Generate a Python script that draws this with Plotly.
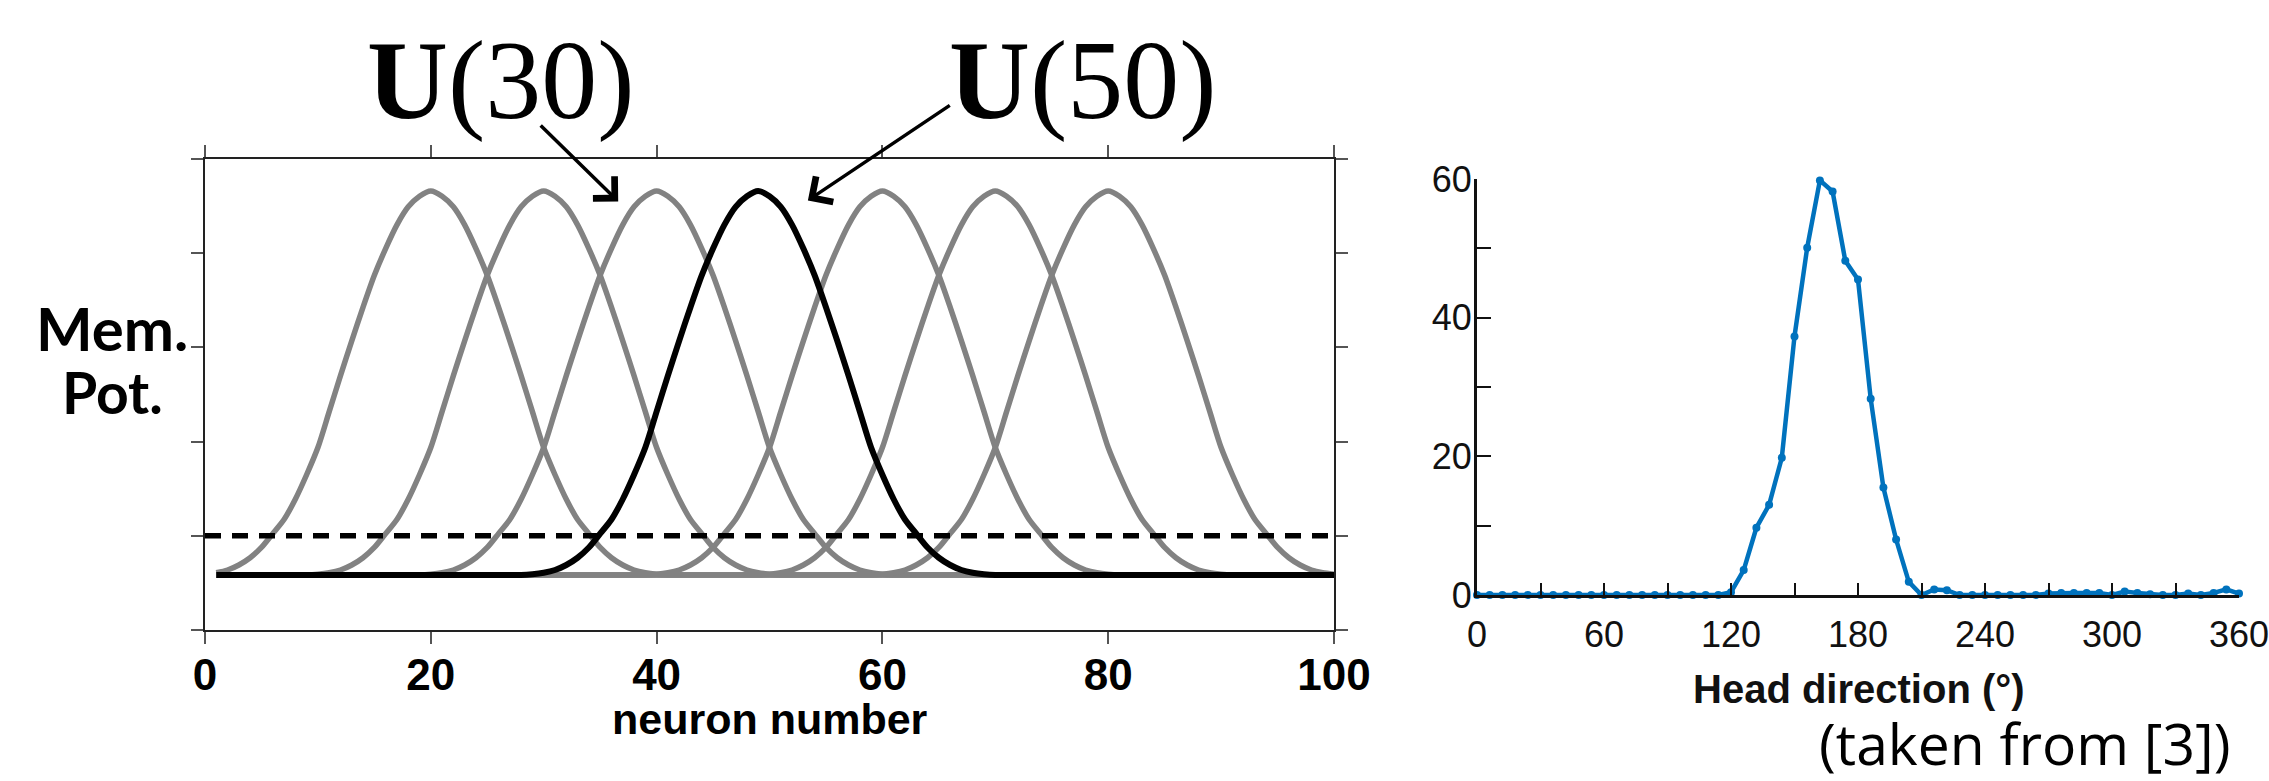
import plotly.graph_objects as go

W, H = 2269, 781

# ---------------- data: left panel (membrane potential bumps) ----------------
neurons = list(range(1, 101))
bump_centers_gray = [20, 30, 40, 60, 70, 80]
bump_center_black = 49
baseline = 0.584
threshold = 1.0
# profile of one bump: offset from centre -> potential
bump_offsets = [-20, -19, -18, -17, -16, -15, -14, -13, -12, -11, -10, -9, -8, -7, -6, -5, -4, -3, -2, -1,
                0, 1, 2, 3, 4, 5, 6, 7, 8, 9, 10, 11, 12, 13, 14, 15, 16, 17, 18, 19, 20]
bump_values = [0.592, 0.608, 0.637, 0.690, 0.767, 0.876, 1.023, 1.173, 1.388, 1.648, 1.937,
               2.318, 2.700, 3.070, 3.427, 3.765, 4.049, 4.301, 4.492, 4.605,
               4.660,
               4.605, 4.492, 4.301, 4.049, 3.765, 3.427, 3.070, 2.700, 2.318, 1.937,
               1.648, 1.388, 1.173, 1.023, 0.876, 0.767, 0.690, 0.637, 0.608, 0.592]
profile = dict(zip(bump_offsets, bump_values))

def bump(center):
    return [profile.get(n - center, baseline) for n in neurons]

# ---------------- data: right panel (head-direction tuning) ----------------
head_dir = [0, 6, 12, 18, 24, 30, 36, 42, 48, 54, 60, 66, 72, 78, 84, 90, 96, 102, 108, 114,
            120, 126, 132, 138, 144, 150, 156, 162, 168, 174, 180, 186, 192, 198, 204, 210,
            216, 222, 228, 234, 240, 246, 252, 258, 264, 270, 276, 282, 288, 294, 300, 306,
            312, 318, 324, 330, 336, 342, 348, 354, 360]
rate = [0, 0, 0, 0, 0, 0, 0, 0, 0, 0, 0, 0, 0, 0, 0, 0, 0, 0, 0, 0,
        0.4, 3.6, 9.7, 13.0, 19.8, 37.3, 50.1, 59.8, 58.2, 48.2, 45.5, 28.3, 15.5, 8.0, 1.9, 0,
        0.8, 0.7, 0, 0, 0, 0, 0, 0, 0, 0.2, 0.3, 0.3, 0.3, 0.3, 0, 0.5,
        0.3, 0.1, 0, 0, 0.2, 0, 0.3, 0.8, 0.2]

x_ticks_left = [0, 20, 40, 60, 80, 100]
y_ticks_left = [0, 1, 2, 3, 4, 5]
x_ticks_right = [0, 60, 120, 180, 240, 300, 360]
x_minor_right = [30, 90, 150, 210, 270, 330]
y_ticks_right = [0, 20, 40, 60]
y_minor_right = [10, 30, 50]

def px(x):
    return x / W

def py(y):
    return 1 - y / H

fig = go.Figure()

gray = "#828282"
for c in bump_centers_gray:
    fig.add_trace(go.Scatter(x=neurons, y=bump(c), mode="lines",
                             line=dict(color=gray, width=5.5, shape="spline", smoothing=0.8),
                             xaxis="x", yaxis="y", showlegend=False, hoverinfo="skip"))
fig.add_trace(go.Scatter(x=[0, 100], y=[threshold, threshold], mode="lines",
                         line=dict(color="black", width=5.5, dash="16px,11px"),
                         xaxis="x", yaxis="y", showlegend=False, hoverinfo="skip"))
fig.add_trace(go.Scatter(x=neurons, y=bump(bump_center_black), mode="lines",
                         line=dict(color="black", width=6, shape="spline", smoothing=0.8),
                         xaxis="x", yaxis="y", showlegend=False, hoverinfo="skip"))

blue = "#0072BD"
fig.add_trace(go.Scatter(x=head_dir, y=rate, mode="lines+markers",
                         line=dict(color=blue, width=4.5), marker=dict(color=blue, size=8),
                         xaxis="x2", yaxis="y2", showlegend=False, cliponaxis=False))

axis_col = "#222222"
fig.update_layout(
    width=W, height=H,
    margin=dict(l=0, r=0, t=0, b=0, pad=0, autoexpand=False),
    paper_bgcolor="white", plot_bgcolor="white",
    xaxis=dict(domain=[px(205), px(1334)], range=[0, 100], tickvals=x_ticks_left,
               ticks="outside", ticklen=12, tickwidth=1.5, tickcolor="#555555",
               showline=True, linecolor=axis_col, linewidth=2, mirror="ticks",
               showgrid=False, zeroline=False, ticklabelstandoff=-7, automargin=False,
               ticklabeloverflow="allow",
               tickfont=dict(family="Liberation Sans", size=44, color="black", weight="bold"),
               anchor="y"),
    yaxis=dict(domain=[py(630), py(159)], range=[0, 5], tickvals=y_ticks_left,
               ticks="outside", ticklen=12, tickwidth=1.5, tickcolor="#555555",
               showline=True, linecolor=axis_col, linewidth=2, mirror="ticks",
               showgrid=False, zeroline=False, showticklabels=False, anchor="x", automargin=False),
    xaxis2=dict(domain=[px(1477), px(2239)], range=[0, 360], tickvals=x_ticks_right,
                ticks="inside", ticklen=12, tickwidth=2, tickcolor="#111111",
                minor=dict(tickvals=x_minor_right, ticks="inside", ticklen=12, tickwidth=2, tickcolor="#111111"),
                showline=True, linecolor="#111111", linewidth=3, showgrid=False, zeroline=False,
                ticklabelstandoff=6, automargin=False, ticklabeloverflow="allow",
                tickfont=dict(family="Liberation Sans", size=36, color="#111111"), anchor="y2"),
    yaxis2=dict(domain=[py(595), py(179)], range=[0, 60], tickvals=y_ticks_right,
                ticks="inside", ticklen=14, tickwidth=2, tickcolor="#111111",
                minor=dict(tickvals=y_minor_right, ticks="inside", ticklen=14, tickwidth=2, tickcolor="#111111"),
                showline=True, linecolor="#111111", linewidth=3, showgrid=False, zeroline=False,
                ticklabelstandoff=-5, automargin=False, ticklabeloverflow="allow",
                tickfont=dict(family="Liberation Sans", size=36, color="#111111"), anchor="x2"),
)

annotations = [
    dict(text="<b>U</b>(30)", x=px(500), y=py(80), font=dict(family="Liberation Serif", size=112, color="black")),
    dict(text="<b>U</b>(50)", x=px(1082), y=py(80), font=dict(family="Liberation Serif", size=112, color="black")),
    dict(text="<b>Mem.</b>", x=px(112), y=py(328), font=dict(family="Lato", size=60, color="black")),
    dict(text="<b>Pot.</b>", x=px(112), y=py(392), font=dict(family="Lato", size=57, color="black")),
    dict(text="<b>neuron number</b>", x=px(770), y=py(719), font=dict(family="Liberation Sans", size=43, color="black")),
    dict(text="<b>Head direction (°)</b>", x=px(1859), y=py(689), font=dict(family="Liberation Sans", size=40, color="#111111")),
    dict(text="(taken from [3])", x=px(2025), y=py(743), font=dict(family="Open Sans", size=57, color="black")),
]
for a in annotations:
    fig.add_annotation(xref="paper", yref="paper", showarrow=False, xanchor="center", yanchor="middle", **a)

# arrows (data coordinates of the left panel)
fig.add_annotation(xref="x", yref="y", axref="x", ayref="y", x=36.6, y=4.55, ax=29.6, ay=5.37,
                   showarrow=True, arrowhead=4, arrowsize=1.7, arrowwidth=3.5, arrowcolor="black", text="")
fig.add_annotation(xref="x", yref="y", axref="x", ayref="y", x=53.4, y=4.56, ax=66.1, ay=5.58,
                   showarrow=True, arrowhead=4, arrowsize=1.7, arrowwidth=3.5, arrowcolor="black", text="")

fig.write_html("out.html")
